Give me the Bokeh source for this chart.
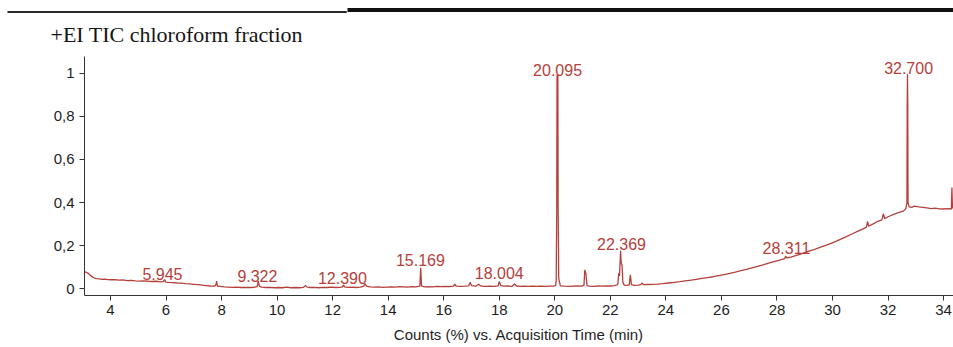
from bokeh.plotting import figure
from bokeh.models import Range1d, FixedTicker, ColumnDataSource, Title
from bokeh.core.properties import value
from bokeh.embed import file_html
from bokeh.resources import INLINE

# ---- chromatogram trace (acquisition time in min, relative counts) ----
trace_time = [
    3.06, 3.12, 3.18, 3.24, 3.30, 3.36, 3.42, 3.50, 3.60, 3.70,
    3.80, 3.90, 4.00, 4.15, 4.30, 4.45, 4.60, 4.75, 4.90, 5.05,
    5.20, 5.35, 5.50, 5.65, 5.80, 5.90, 5.945, 5.99, 6.10, 6.25,
    6.40, 6.55, 6.70, 6.85, 7.00, 7.15, 7.30, 7.45, 7.60, 7.75,
    7.80, 7.82, 7.85, 7.95, 8.10, 8.25, 8.40, 8.55, 8.70, 8.85,
    9.00, 9.15, 9.28, 9.322, 9.36, 9.45, 9.60, 9.75, 9.90, 10.05,
    10.20, 10.35, 10.50, 10.65, 10.80, 10.95, 11.02, 11.08, 11.20, 11.35,
    11.50, 11.65, 11.80, 11.95, 12.10, 12.25, 12.36, 12.39, 12.43, 12.55,
    12.70, 12.85, 13.00, 13.12, 13.16, 13.22, 13.35, 13.50, 13.65, 13.80,
    13.95, 14.10, 14.25, 14.40, 14.55, 14.70, 14.85, 15.00, 15.14, 15.169,
    15.20, 15.30, 15.45, 15.60, 15.75, 15.90, 16.05, 16.20, 16.35, 16.40,
    16.45, 16.60, 16.75, 16.90, 16.95, 17.00, 17.15, 17.25, 17.35, 17.50,
    17.65, 17.80, 17.96, 18.004, 18.05, 18.15, 18.30, 18.45, 18.55, 18.62,
    18.75, 18.90, 19.05, 19.20, 19.35, 19.50, 19.65, 19.80, 19.95, 20.03,
    20.05, 20.07, 20.08, 20.11, 20.12, 20.14, 20.20, 20.35, 20.50, 20.65,
    20.80, 20.95, 21.05, 21.08, 21.12, 21.16, 21.25, 21.40, 21.55, 21.70,
    21.85, 22.00, 22.15, 22.27, 22.30, 22.33, 22.369, 22.39, 22.42, 22.45,
    22.50, 22.60, 22.68, 22.72, 22.76, 22.85, 23.00, 23.10, 23.13, 23.20,
    23.35, 23.50, 23.70, 23.90, 24.10, 24.30, 24.50, 24.70, 24.90, 25.10,
    25.30, 25.50, 25.70, 25.90, 26.10, 26.30, 26.50, 26.70, 26.90, 27.10,
    27.30, 27.50, 27.70, 27.90, 28.10, 28.28, 28.311, 28.35, 28.50, 28.70,
    28.90, 29.10, 29.30, 29.50, 29.70, 29.90, 30.10, 30.30, 30.50, 30.70,
    30.90, 31.10, 31.22, 31.26, 31.30, 31.45, 31.60, 31.78, 31.83, 31.88,
    32.00, 32.20, 32.40, 32.55, 32.64, 32.68, 32.69, 32.70, 32.71, 32.72,
    32.76, 32.85, 32.95, 33.10, 33.25, 33.40, 33.55, 33.70, 33.85, 34.00,
    34.15, 34.28, 34.30, 34.32,
]
trace_counts = [
    0.079, 0.077, 0.073, 0.066, 0.060, 0.054, 0.050, 0.047, 0.046, 0.044,
    0.045, 0.043, 0.042, 0.043, 0.040, 0.041, 0.038, 0.039, 0.037, 0.036,
    0.037, 0.035, 0.034, 0.035, 0.032, 0.033, 0.043, 0.031, 0.030, 0.029,
    0.027, 0.026, 0.024, 0.023, 0.021, 0.019, 0.017, 0.015, 0.013, 0.012,
    0.020, 0.036, 0.013, 0.011, 0.009, 0.008, 0.007, 0.008, 0.006, 0.007,
    0.006, 0.007, 0.010, 0.036, 0.012, 0.008, 0.006, 0.007, 0.005, 0.006,
    0.005, 0.008, 0.005, 0.006, 0.005, 0.007, 0.016, 0.008, 0.006, 0.007,
    0.005, 0.007, 0.006, 0.008, 0.006, 0.007, 0.009, 0.018, 0.009, 0.007,
    0.008, 0.006, 0.008, 0.012, 0.024, 0.013, 0.009, 0.008, 0.009, 0.007,
    0.008, 0.009, 0.008, 0.010, 0.009, 0.008, 0.010, 0.009, 0.012, 0.097,
    0.014, 0.009, 0.010, 0.009, 0.011, 0.010, 0.011, 0.010, 0.012, 0.022,
    0.012, 0.011, 0.012, 0.014, 0.030, 0.015, 0.012, 0.021, 0.012, 0.011,
    0.012, 0.011, 0.014, 0.034, 0.016, 0.012, 0.013, 0.011, 0.022, 0.013,
    0.011, 0.012, 0.011, 0.012, 0.011, 0.012, 0.011, 0.012, 0.013, 0.015,
    0.040, 0.370, 0.990, 0.988, 0.370, 0.050, 0.014, 0.012, 0.011, 0.012,
    0.013, 0.012, 0.016, 0.088, 0.070, 0.015, 0.012, 0.011, 0.013, 0.012,
    0.014, 0.013, 0.015, 0.020, 0.072, 0.060, 0.176, 0.120, 0.110, 0.030,
    0.017, 0.016, 0.018, 0.065, 0.020, 0.016, 0.017, 0.019, 0.027, 0.019,
    0.020, 0.021, 0.022, 0.024, 0.027, 0.030, 0.033, 0.037, 0.040, 0.044,
    0.048, 0.052, 0.056, 0.061, 0.066, 0.072, 0.077, 0.084, 0.090, 0.097,
    0.104, 0.111, 0.119, 0.126, 0.133, 0.140, 0.152, 0.143, 0.147, 0.155,
    0.163, 0.172, 0.180, 0.190, 0.199, 0.208, 0.219, 0.230, 0.242, 0.254,
    0.266, 0.278, 0.286, 0.312, 0.290, 0.300, 0.311, 0.320, 0.348, 0.325,
    0.334, 0.345, 0.354, 0.360, 0.372, 0.400, 0.850, 0.995, 0.850, 0.400,
    0.380, 0.378, 0.383, 0.380, 0.378, 0.375, 0.372, 0.374, 0.371, 0.370,
    0.372, 0.370, 0.470, 0.372,
]
assert len(trace_time) == len(trace_counts)

# ---- peak annotations ----
label_text = ["5.945", "9.322", "12.390", "15.169", "18.004", "20.095", "22.369", "28.311", "32.700"]
label_time = [5.87, 9.29, 12.35, 15.16, 18.00, 20.10, 22.40, 28.34, 32.74]
label_level = [0.069, 0.060, 0.051, 0.132, 0.072, 1.013, 0.206, 0.188, 1.023]

# ---- axes ----
x_ticks = [4, 6, 8, 10, 12, 14, 16, 18, 20, 22, 24, 26, 28, 30, 32, 34]
y_ticks = [0, 0.2, 0.4, 0.6, 0.8, 1.0]
y_tick_labels = ["0", "0,2", "0,4", "0,6", "0,8", "1"]

title_text = "+EI TIC chloroform fraction"
x_label = "Counts (%) vs. Acquisition Time (min)"

RED = "#b5403b"
INK = "#1e1e1e"

p = figure(
    width=953, height=347,
    x_range=Range1d(3.064, 34.357), y_range=Range1d(-0.031, 1.077),
    output_backend="svg", toolbar_location=None,
    min_border_left=84, min_border_right=0, min_border_top=56, min_border_bottom=52,
)
p.outline_line_color = None
p.xgrid.visible = False
p.ygrid.visible = False
p.background_fill_color = "white"
p.border_fill_color = "white"

# chart title (innermost element above the frame)
p.add_layout(Title(text=title_text, text_font="Liberation Serif", text_font_size="22px",
                   text_font_style="normal", text_color="#151515", align="left",
                   offset=-34, standoff=19), "above")

# thin left part of the header rule (blank text on a filled box)
p.add_layout(Title(text=" ", text_font_size="1px", align="left", offset=-77, standoff=-5,
                   background_fill_color="#2a2a2a", background_fill_alpha=1,
                   padding=dict(left=0, right=339, top=1, bottom=0)), "above")

# outermost: heavy right part of the header rule
p.title.text = " "
p.title.text_font_size = "1px"
p.title.align = "left"
p.title.offset = 263
p.title.standoff = -3
p.title.background_fill_color = "#111111"
p.title.background_fill_alpha = 1
p.title.padding = dict(left=0, right=606, top=2, bottom=1)

p.line(trace_time, trace_counts, line_color=RED, line_width=1.3)

src = ColumnDataSource(dict(x=label_time, y=label_level, t=label_text))
p.text(x="x", y="y", text="t", source=src, text_align="center", text_baseline="alphabetic",
       text_font=value("Liberation Sans"), text_font_size="16px", text_color=RED)

xa = p.xaxis[0]
xa.ticker = FixedTicker(ticks=x_ticks)
xa.minor_tick_line_color = None
xa.major_tick_in = 0
xa.major_tick_out = 5
xa.axis_line_color = "#333333"
xa.major_tick_line_color = "#333333"
xa.major_label_text_font = "Liberation Sans"
xa.major_label_text_font_size = "15px"
xa.major_label_text_color = INK
xa.major_label_standoff = 4
xa.axis_label = x_label
xa.axis_label_text_font = "Liberation Sans"
xa.axis_label_text_font_size = "15px"
xa.axis_label_text_font_style = "normal"
xa.axis_label_text_color = INK
xa.axis_label_standoff = 8

ya = p.yaxis[0]
ya.ticker = FixedTicker(ticks=y_ticks)
ya.major_label_overrides = {t: s for t, s in zip(y_ticks, y_tick_labels)}
ya.minor_tick_line_color = None
ya.major_tick_in = 0
ya.major_tick_out = 5
ya.axis_line_color = "#333333"
ya.major_tick_line_color = "#333333"
ya.major_label_text_font = "Liberation Sans"
ya.major_label_text_font_size = "15px"
ya.major_label_text_color = INK
ya.major_label_standoff = 5

open("out.html", "w").write(file_html(p, INLINE))
